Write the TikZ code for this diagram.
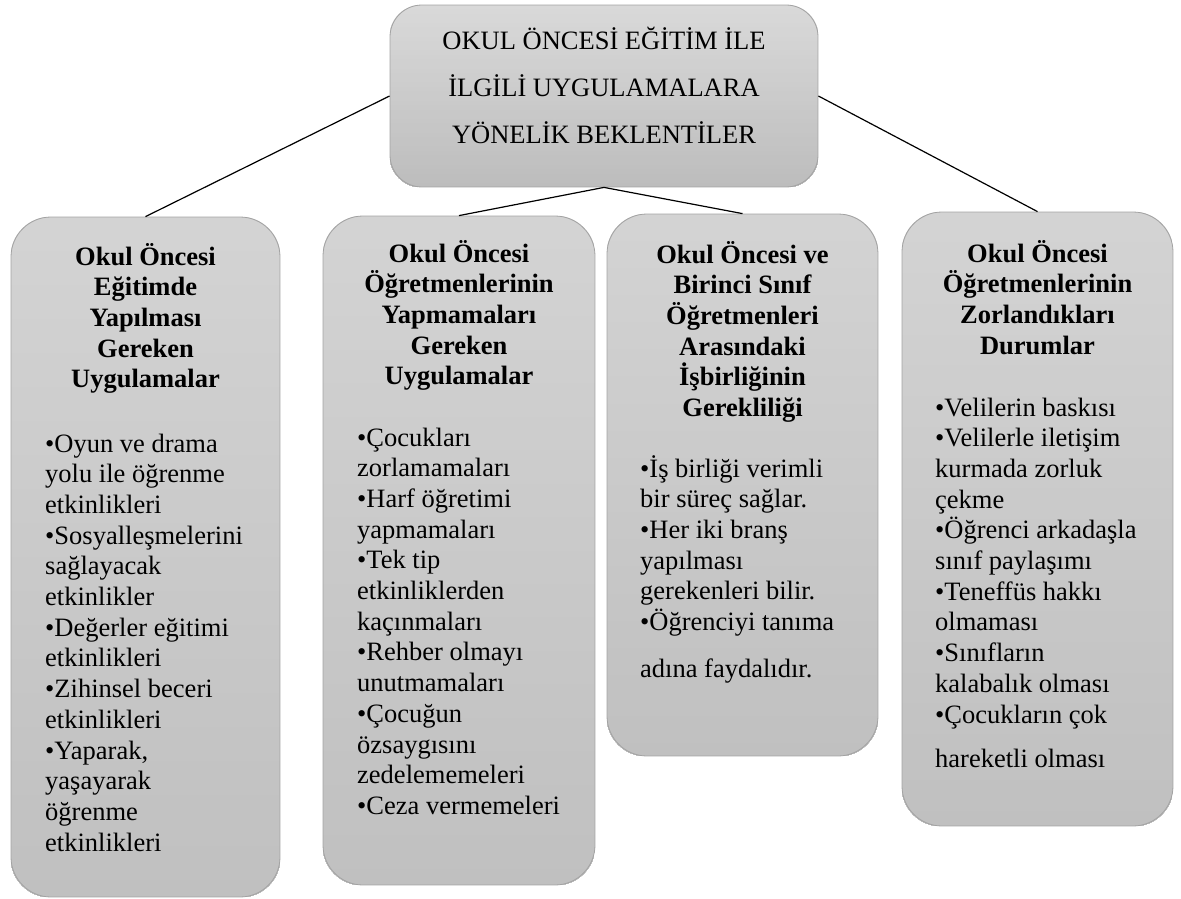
\documentclass[tikz,border=0pt]{standalone}
\usepackage{fontspec}
\setmainfont{Liberation Serif}
\usetikzlibrary{calc,backgrounds}
\definecolor{paneltop}{HTML}{D3D3D3}
\definecolor{panelbot}{HTML}{C0C0C0}
\definecolor{headtop}{HTML}{D9D9D9}
\definecolor{headbot}{HTML}{BDBDBD}
\definecolor{panelline}{HTML}{A3A3A3}
\tikzset{
  panel/.style={draw=panelline, line width=0.8pt, rounded corners=40pt, inner sep=0pt},
  headbox/.style={draw=panelline, line width=0.8pt, rounded corners=32pt, inner sep=0pt},
  txt/.style={inner sep=0pt, font=\fontsize{26.5pt}{30.7pt}\selectfont},
  ttl/.style={txt, anchor=base, font=\fontsize{26.5pt}{30.7pt}\selectfont\bfseries},
  itm/.style={txt, anchor=base west},
  hdl/.style={txt, anchor=base},
  link/.style={draw=black, line width=1.2pt}
}
\begin{document}
\begin{tikzpicture}[x=1pt,y=-1pt]
\useasboundingbox (0,0) rectangle (1181,899);

% boxes
\node[headbox, minimum width=428pt, minimum height=182pt] (top) at (604,96) {};
\node[panel, minimum width=269pt, minimum height=680pt] (b1) at (145.5,557) {};
\node[panel, minimum width=272pt, minimum height=669pt] (b2) at (459,550.5) {};
\node[panel, minimum width=271pt, minimum height=542pt] (b3) at (742.5,485) {};
\node[panel, minimum width=271pt, minimum height=614pt] (b4) at (1037.5,519) {};

% vertical gradients behind the boxes
\begin{pgfonlayer}{background}
\foreach \n/\r/\ct/\cb in {top/32/headtop/headbot, b1/40/paneltop/panelbot,
    b2/40/paneltop/panelbot, b3/40/paneltop/panelbot, b4/40/paneltop/panelbot}{
  \begin{scope}
    \clip[rounded corners=\r pt] (\n.north west) rectangle (\n.south east);
    \foreach \k in {0,...,39}{
      \pgfmathsetmacro\p{100*\k/39}
      \fill[\cb!\p!\ct] ($(\n.north west)!\k/40!(\n.south west)$) rectangle (\n.south east);
    }
  \end{scope}
}
\end{pgfonlayer}

% connectors
\draw[link] (top.west) -- (b1.north);
\draw[link] (top.south) -- (b2.north);
\draw[link] (top.south) -- (b3.north);
\draw[link] (top.east) -- (b4.north);

% head text
\node[hdl] (h1) at (604,50) {OKUL ÖNCESİ EĞİTİM İLE};
\node[hdl] (h2) at (604,96.5) {İLGİLİ UYGULAMALARA};
\node[hdl] (h3) at (604,143) {YÖNELİK BEKLENTİLER};

% box 1
\foreach \t [count=\i] in {Okul Öncesi, Eğitimde, Yapılması, Gereken, Uygulamalar}
  \node[ttl] (b1t\i) at (145.5,{265+(\i-1)*30.7}) {\t};
\foreach \t [count=\i] in {•Oyun ve drama, yolu ile öğrenme, etkinlikleri,
  •Sosyalleşmelerini, sağlayacak, etkinlikler, •Değerler eğitimi, etkinlikleri,
  •Zihinsel beceri, etkinlikleri, {•Yaparak,}, yaşayarak, öğrenme, etkinlikleri}
  \node[itm] (b1b\i) at (45,{452+(\i-1)*30.7}) {\t};

% box 2
\foreach \t [count=\i] in {Okul Öncesi, Öğretmenlerinin, Yapmamaları, Gereken, Uygulamalar}
  \node[ttl] (b2t\i) at (459,{262+(\i-1)*30.7}) {\t};
\foreach \t [count=\i] in {•Çocukları, zorlamamaları, •Harf öğretimi, yapmamaları,
  •Tek tip, etkinliklerden, kaçınmaları, •Rehber olmayı, unutmamaları,
  •Çocuğun, özsaygısını, zedelememeleri, •Ceza vermemeleri}
  \node[itm] (b2b\i) at (357,{446+(\i-1)*30.7}) {\t};

% box 3
\foreach \t [count=\i] in {Okul Öncesi ve, Birinci Sınıf, Öğretmenleri, Arasındaki,
  İşbirliğinin, Gerekliliği}
  \node[ttl] (b3t\i) at (742.5,{263+(\i-1)*30.7}) {\t};
\foreach \t [count=\i] in {•İş birliği verimli, bir süreç sağlar., •Her iki branş,
  yapılması, gerekenleri bilir., •Öğrenciyi tanıma}
  \node[itm] (b3b\i) at (640,{477+(\i-1)*30.7}) {\t};
\node[itm] (b3b7) at (640,677) {adına faydalıdır.};

% box 4
\foreach \t [count=\i] in {Okul Öncesi, Öğretmenlerinin, Zorlandıkları, Durumlar}
  \node[ttl] (b4t\i) at (1037.5,{262+(\i-1)*30.7}) {\t};
\foreach \t [count=\i] in {•Velilerin baskısı, •Velilerle iletişim, kurmada zorluk,
  çekme, •Öğrenci arkadaşla, sınıf paylaşımı, •Teneffüs hakkı, olmaması,
  •Sınıfların, kalabalık olması, •Çocukların çok}
  \node[itm] (b4b\i) at (935,{416+(\i-1)*30.7}) {\t};
\node[itm] (b4b12) at (935,767) {hareketli olması};
\end{tikzpicture}
\end{document}
